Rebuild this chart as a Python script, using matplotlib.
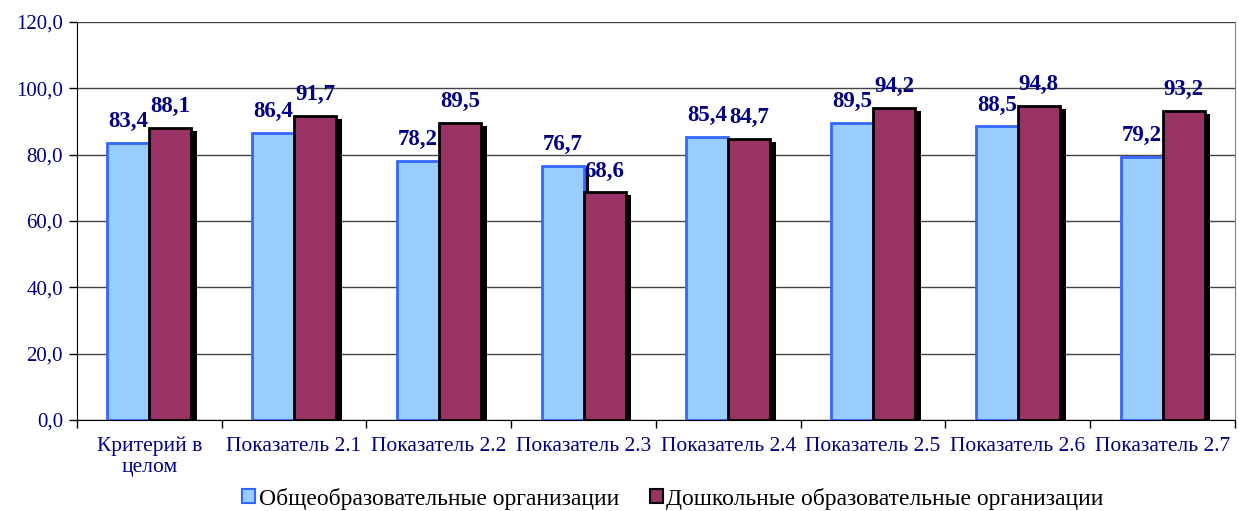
import numpy as np
import matplotlib.pyplot as plt
from matplotlib.patches import Patch

categories = ['Критерий в\nцелом', 'Показатель 2.1', 'Показатель 2.2', 'Показатель 2.3',
              'Показатель 2.4', 'Показатель 2.5', 'Показатель 2.6', 'Показатель 2.7']
general_orgs = [83.4, 86.4, 78.2, 76.7, 85.4, 89.5, 88.5, 79.2]
preschool_orgs = [88.1, 91.7, 89.5, 68.6, 84.7, 94.2, 94.8, 93.2]
series_names = ['Общеобразовательные организации', 'Дошкольные образовательные организации']

plt.rcParams['font.family'] = ['Liberation Serif', 'DejaVu Serif']
navy = '#000080'
blue_fill, blue_edge = '#99CCFF', '#3366FF'
maroon_fill = '#993366'

fig = plt.figure(figsize=(12.39, 5.11), dpi=100)
ax = fig.add_axes([0.0621, 0.178, 0.9346, 0.779])

x = np.arange(len(categories))
w = 0.29
# drop shadows (offset right/down) behind the bars
ax.bar(x - w / 2 + 0.041, np.array(general_orgs) - 0.9, w, color='black', zorder=2)
ax.bar(x + w / 2 + 0.041, np.array(preschool_orgs) - 0.9, w, color='black', zorder=2)
b1 = ax.bar(x - w / 2, general_orgs, w, color=blue_fill, edgecolor=blue_edge, linewidth=2, zorder=3)
b2 = ax.bar(x + w / 2, preschool_orgs, w, color=maroon_fill, edgecolor='black', linewidth=2, zorder=4)

for bars, vals in ((b1, general_orgs), (b2, preschool_orgs)):
    for rect, v in zip(bars, vals):
        ax.annotate(f'{v:.1f}'.replace('.', ','), (rect.get_x() + rect.get_width() / 2, v),
                    xytext=(0, 11.5), textcoords='offset points', ha='center', va='baseline',
                    fontsize=16.5, fontweight='bold', color=navy, zorder=6)

ax.set_xlim(-0.5, len(categories) - 0.5)
ax.set_ylim(0, 120)
ax.set_yticks(np.arange(0, 121, 20))
ax.set_yticklabels([f'{t:.1f}'.replace('.', ',') for t in np.arange(0, 121, 20)])
ax.set_xticks(x)
ax.set_xticklabels(categories, linespacing=1.15)
ax.set_xticks(np.arange(-0.5, len(categories), 1), minor=True)
ax.tick_params(axis='x', which='major', length=0, pad=12, labelsize=15.5, labelcolor=navy)
ax.tick_params(axis='x', which='minor', length=6, width=1, direction='out', color='black')
ax.tick_params(axis='y', length=6, width=1, direction='out', labelsize=15, labelcolor=navy, pad=4)

ax.yaxis.grid(True, color='#444444', linewidth=1)
ax.set_axisbelow(True)
ax.spines['top'].set_visible(False)
ax.spines['right'].set_color('#808080')
ax.spines['left'].set_color('black')
ax.spines['bottom'].set_color('black')
ax.spines['bottom'].set_zorder(5)

handles = [Patch(facecolor=blue_fill, edgecolor=blue_edge, linewidth=1.5),
           Patch(facecolor=maroon_fill, edgecolor='black', linewidth=1.5)]
fig.legend(handles, series_names, loc='center', bbox_to_anchor=(0.543, 0.024), ncol=2,
           frameon=False, fontsize=17, handlelength=0.55, handleheight=0.55,
           handletextpad=0.15, columnspacing=1.3, borderpad=0)

fig.savefig('out.png', dpi=100)
